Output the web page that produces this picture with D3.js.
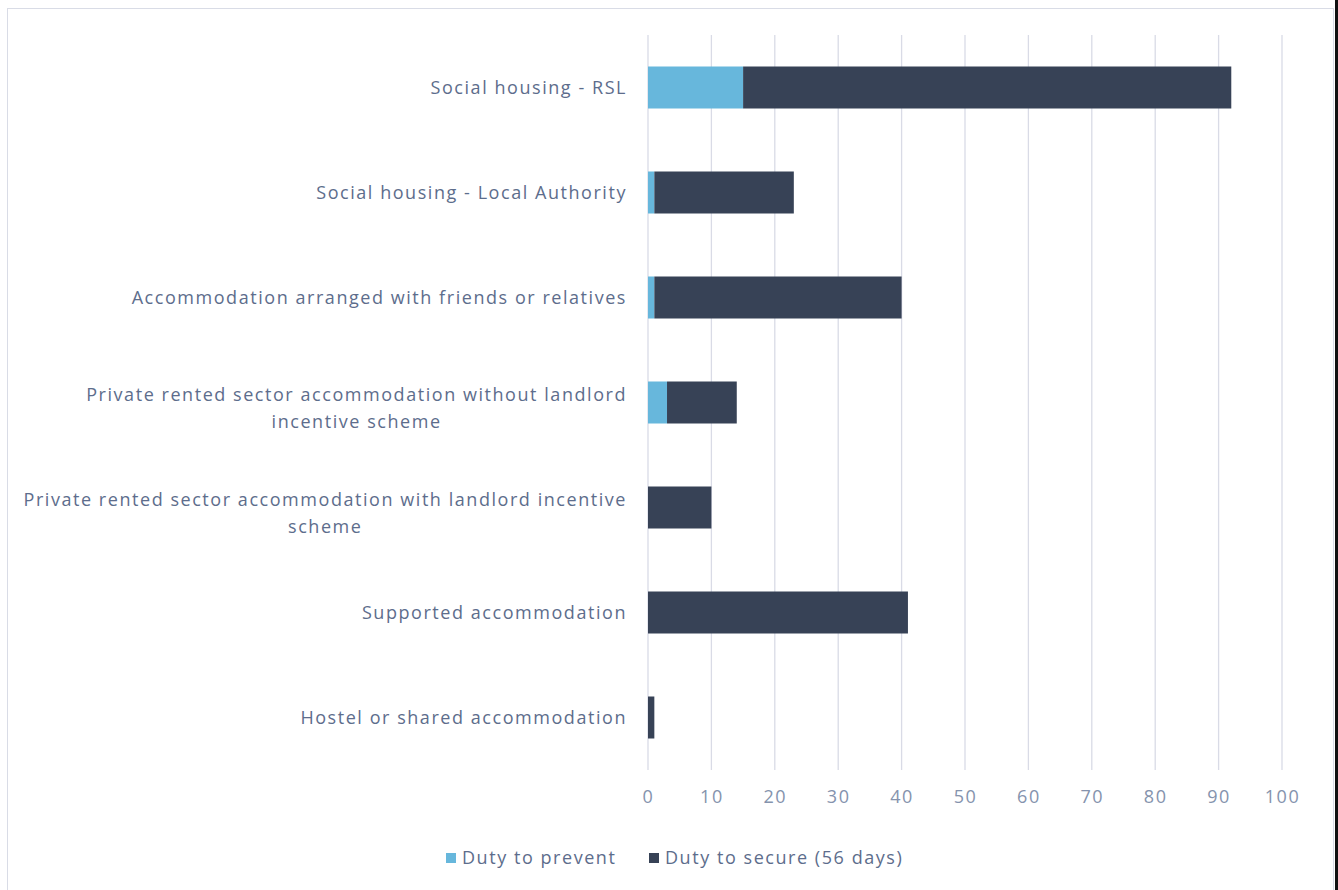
<!DOCTYPE html>
<html>
<head>
<meta charset="utf-8">
<script src="https://cdn.jsdelivr.net/npm/d3@7"></script>
<style>
  body { margin: 0; background: #fff; }
  svg { display: block; font-family: "Open Sans", sans-serif; }
</style>
</head>
<body>
<div id="chart"></div>
<script>
const categories = [
  "Social housing - RSL",
  "Social housing - Local Authority",
  "Accommodation arranged with friends or relatives",
  "Private rented sector accommodation without landlord incentive scheme",
  "Private rented sector accommodation with landlord incentive scheme",
  "Supported accommodation",
  "Hostel or shared accommodation"
];
// wrapped label lines, as in the original
const labelLines = [
  ["Social housing - RSL"],
  ["Social housing - Local Authority"],
  ["Accommodation arranged with friends or relatives"],
  ["Private rented sector accommodation without landlord", "incentive scheme"],
  ["Private rented sector accommodation with landlord incentive", "scheme"],
  ["Supported accommodation"],
  ["Hostel or shared accommodation"]
];
const dutyToPrevent = [15, 1, 1, 3, 0, 0, 0];
const dutyToSecure = [77, 22, 39, 11, 10, 41, 1];
const seriesNames = ["Duty to prevent", "Duty to secure (56 days)"];
const tickValues = [0, 10, 20, 30, 40, 50, 60, 70, 80, 90, 100];

const W = 1338, H = 890;
const colors = ["#67b7dc", "#374256"];
const fontSize = 18, spacing = "1.55px";

const svg = d3.select("#chart").append("svg")
  .attr("width", W)
  .attr("height", H);

// outer frame
svg.append("rect")
  .attr("x", 7.5).attr("y", 8.5)
  .attr("width", 1326).attr("height", 900)
  .attr("fill", "none")
  .attr("stroke", "#d9dce6");
svg.append("rect")
  .attr("x", 1335).attr("y", 0)
  .attr("width", 3).attr("height", H)
  .attr("fill", "#111");

const x = d3.scaleLinear().domain([0, 100]).range([648, 1282]);
const y = d3.scaleBand().domain(categories).range([35, 770])
  .paddingInner(0.6).paddingOuter(0.3);

// gridlines
svg.append("g")
  .selectAll("line")
  .data(tickValues)
  .join("line")
  .attr("x1", d => x(d)).attr("x2", d => x(d))
  .attr("y1", 35).attr("y2", 770)
  .attr("stroke", "#d9dbe6")
  .attr("stroke-width", 1.3);

// stack the two series
const rows = categories.map((c, i) => ({cat: c, prevent: dutyToPrevent[i], secure: dutyToSecure[i]}));
const stack = d3.stack().keys(["prevent", "secure"]);
const layers = stack(rows);

svg.append("g")
  .selectAll("g")
  .data(layers)
  .join("g")
  .attr("fill", (d, i) => colors[i])
  .selectAll("rect")
  .data(d => d)
  .join("rect")
  .attr("x", d => x(d[0]))
  .attr("y", d => y(d.data.cat))
  .attr("width", d => x(d[1]) - x(d[0]))
  .attr("height", y.bandwidth());

// x axis labels
const xAxis = svg.append("g")
  .attr("transform", "translate(0,790)")
  .call(d3.axisBottom(x).tickValues(tickValues).tickSize(0).tickPadding(0));
xAxis.select(".domain").remove();
xAxis.selectAll("text")
  .attr("fill", "#8593ad")
  .attr("font-size", fontSize)
  .attr("letter-spacing", spacing)
  .attr("font-family", "Open Sans, sans-serif");

// category labels (right aligned block, lines centered to each other)
const labelG = svg.append("g");
const lineH = 27;
categories.forEach((c, i) => {
  const lines = labelLines[i];
  const g = labelG.append("g");
  const cy = y(c) + y.bandwidth() / 2;
  const texts = g.selectAll("text")
    .data(lines)
    .join("text")
    .attr("font-size", fontSize)
    .attr("letter-spacing", spacing)
    .attr("fill", "#5d6d8c")
    .attr("text-anchor", "middle")
    .attr("dy", "0.35em")
    .attr("y", (d, j) => cy + (j - (lines.length - 1) / 2) * lineH + (lines.length > 1 ? 6 : 0))
    .text(d => d);
  let maxW = 0;
  texts.each(function() { maxW = Math.max(maxW, this.getComputedTextLength()); });
  texts.attr("x", 627 - maxW / 2);
});

// legend
const legend = svg.append("g").attr("transform", "translate(446,858)");
const legendX = [0, 203];
seriesNames.forEach((name, i) => {
  const g = legend.append("g").attr("transform", "translate(" + legendX[i] + ",0)");
  g.append("rect")
    .attr("x", 0).attr("y", -5)
    .attr("width", 10).attr("height", 10)
    .attr("fill", colors[i]);
  g.append("text")
    .attr("x", 16).attr("dy", "0.35em")
    .attr("font-size", fontSize)
    .attr("letter-spacing", spacing)
    .attr("fill", "#5d6d8c")
    .text(name);
});
</script>
</body>
</html>
